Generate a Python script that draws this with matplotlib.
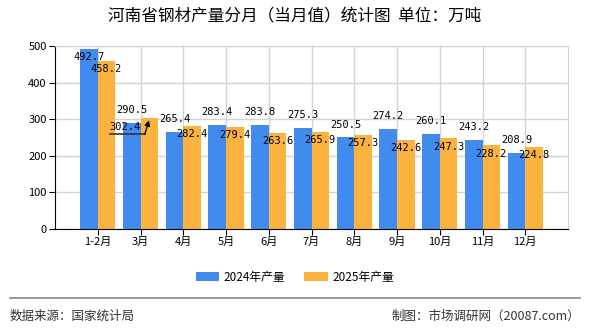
import matplotlib
matplotlib.use('Agg')
import matplotlib.pyplot as plt
import numpy as np

plt.rcParams['font.family'] = ['Noto Sans CJK SC', 'DejaVu Sans']

# Data
Months = ['1-2月', '3月', '4月', '5月', '6月', '7月', '8月', '9月', '10月', '11月', '12月']
Prod2024 = [492.7, 290.5, 265.4, 283.4, 283.8, 275.3, 250.5, 274.2, 260.1, 243.2, 208.9]
Prod2025 = [458.2, 302.4, 282.4, 279.4, 263.6, 265.9, 257.3, 242.6, 247.3, 228.2, 224.8]

Blue = '#418BEE'
Orange = '#FCB23F'

fig = plt.figure(figsize=(5.9, 3.3), dpi=100)
ax = fig.add_axes([55/590, 1 - 229/330, 513/590, 183/330])

x = np.arange(len(Months))
w = 0.41
ax.bar(x - w/2, Prod2024, width=w, color=Blue, label='2024年产量', zorder=2)
ax.bar(x + w/2, Prod2025, width=w, color=Orange, label='2025年产量', zorder=2)

ax.set_xlim(-1, len(Months))
ax.set_ylim(0, 500)
ax.set_yticks(range(0, 501, 100))
ax.set_xticks(x)
ax.set_xticklabels(Months, fontsize=8)
ax.tick_params(axis='y', labelsize=8, length=4, pad=2)
ax.tick_params(axis='x', length=4, pad=2)
ax.grid(True, color='#d3d3d3', linewidth=1, zorder=0)

for s in ['top', 'right']:
    ax.spines[s].set_color('#d3d3d3')
for s in ['left', 'bottom']:
    ax.spines[s].set_color('black')

lab = dict(fontsize=7.5, family='DejaVu Sans Mono', ha='center', va='center', zorder=4)
for i, (a, b) in enumerate(zip(Prod2024, Prod2025)):
    # blue labels sit above the bar, clipped near the top
    ya = min(a + 35, 470)
    ax.text(i - w/2, ya, f'{a}', **lab)
    if i == 1:
        # this label was pushed aside, with a leader line back to its bar
        ax.text(i - 0.36, 278, f'{b}', **lab)
        ax.plot([i - 0.71, i + 0.1], [259, 259], color='#333333', lw=1.2, zorder=3)
        ax.annotate('', xy=(i + 0.2, 297), xytext=(i + 0.1, 259),
                    arrowprops=dict(arrowstyle='-|>', color='black', lw=0.9,
                                    shrinkA=0, shrinkB=0, mutation_scale=8), zorder=4)
    else:
        ax.text(i + w/2, b - 22, f'{b}', **lab)

fig.text(0.5, 1 - 17/330, '河南省钢材产量分月（当月值）统计图  单位：万吨',
         ha='center', va='center', fontsize=12)

fig.legend(loc='center', bbox_to_anchor=(0.5, 1 - 277/330), ncol=2, frameon=False,
           fontsize=8.5, handlelength=2.0, handleheight=0.8, columnspacing=1.6, handletextpad=0.4)

fig.add_artist(plt.Line2D([10/590, 580/590], [1 - 298/330, 1 - 298/330],
                          color='#888888', lw=1.2))
fig.text(10/590, 1 - 316/330, '数据来源：国家统计局', ha='left', va='center',
         fontsize=9, color='#333333')
fig.text(580/590, 1 - 316/330, '制图：市场调研网（20087.com）', ha='right', va='center',
         fontsize=9, color='#333333')

fig.savefig('out.png', dpi=100)
